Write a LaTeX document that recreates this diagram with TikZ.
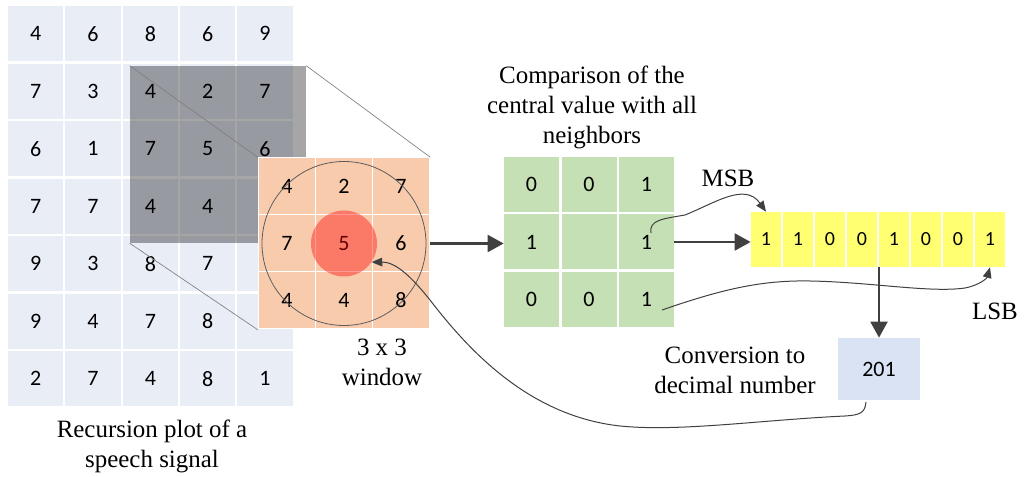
\documentclass[tikz,border=0pt]{standalone}
\usepackage{fontspec}
\setmainfont{Liberation Serif}
\newfontfamily\cellfont{Carlito}
\usepackage{tikz}
\usetikzlibrary{arrows.meta}
\definecolor{plotblue}{HTML}{E9EDF6}
\definecolor{winorange}{HTML}{F8CBAD}
\definecolor{cmpgreen}{HTML}{C5E0B4}
\definecolor{bityellow}{HTML}{FFFF71}
\definecolor{decblue}{HTML}{DAE3F3}
\definecolor{arrowgray}{HTML}{404040}
\tikzset{%
  cell/.style      = {shape=rectangle, inner sep=0pt,%
                      font=\cellfont\fontsize{16.5}{18}\selectfont},%
  plotcell/.style  = {cell, fill=plotblue, minimum width=41.6pt, minimum height=41.6pt},%
  wincell/.style   = {cell, fill=winorange, minimum size=42pt},%
  cmpcell/.style   = {cell, fill=cmpgreen, minimum size=41.25pt},%
  bitcell/.style   = {cell, fill=bityellow, minimum width=22.5pt,%
                      minimum height=41.25pt, font=\cellfont\fontsize{15}{16}\selectfont},%
  caption/.style   = {align=center, font=\rmfamily\fontsize{18.7}{22.5}\selectfont},%
  bigarrow/.style  = {draw=arrowgray, line width=2.2pt,%
                      -{Triangle[length=12pt,width=12.5pt]}},%
  thinarrow/.style = {draw=arrowgray, line width=.75pt,%
                      -{Triangle[length=8pt,width=6.5pt]}}%
}

\begin{document}
\begin{tikzpicture}[x=.75pt,y=-.75pt,
	zoomline/.style={draw=gray, line width=.5pt},
	selbox/.style={fill=black, fill opacity=.35, inner sep=0pt,
		minimum width=132pt, minimum height=132.75pt}]
	\useasboundingbox (0,0) rectangle (1025,477);
	% recursion plot
	\foreach \r/\vals in {0/{4,6,8,6,9},1/{7,3,4,2,7},2/{6,1,7,5,6},3/{7,7,4,4,{}},
		4/{9,3,8,7,{}},5/{9,4,7,8,{}},6/{2,7,4,8,1}}
		\foreach \v [count=\c from 0] in \vals
			\node [plotcell] (p\r\c) at (35.75+57.3*\c,33.75+57.5*\r) {\v};
	\node [caption] (plotlbl) at (152,446) {Recursion plot of a\\speech signal};
	\node [selbox] (sel) at (218,154.5) {};
	% 3 x 3 window
	\node [fill=white, inner sep=0pt, minimum size=129pt] (win) at (344,243.5) {};
	\draw [zoomline] (sel.north west) -- (win.north west)
		(sel.north east) -- (win.north east)
		(sel.south west) -- (win.south west);
	\foreach \r/\vals in {0/{4,2,7},1/{7,5,6},2/{4,4,8}}
		\foreach \v [count=\c from 0] in \vals
			\node [wincell] (w\r\c) at (287+57*\c,186.5+57*\r) {\v};
	\node [circle, fill=red, fill opacity=.4, inner sep=0pt, minimum size=49.5pt] (ctr) at (w11) {};
	\node [circle, draw=arrowgray!85, line width=.6pt, minimum size=123pt] (nbhd) at (w11) {};
	\node [caption] (winlbl) at (382,362) {3 x 3\\window};
	% comparison
	\node [caption] (cmplbl) at (592,107) {Comparison of the\\central value with all\\neighbors};
	\foreach \r/\vals in {0/{0,0,1},1/{1,{},1},2/{0,0,1}}
		\foreach \v [count=\c from 0] in \vals
			\node [cmpcell] (g\r\c) at (531.5+57.5*\c,184.5+57.5*\r) {\v};
	% binary code and decimal value
	\foreach \v [count=\i] in {1,1,0,0,1,0,0,1}
		\node [bitcell] (b\i) at (734+32*\i,239.5) {\v};
	\node [caption] (msblbl) at (728,178) {MSB};
	\node [caption] (lsblbl) at (995,311) {LSB};
	\node [cell, fill=decblue, minimum width=61.5pt, minimum height=46.5pt] (dec) at (879,369) {201};
	\node [caption] (declbl) at (735,370) {Conversion to\\decimal number};
	\draw [bigarrow] (win.east) -- (win.east -| g10.west);
	\draw [bigarrow] (g12.east) -- (g12.east -| b1.west);
	\draw [bigarrow] (dec.north |- b5.south) -- (dec.north);
	\coordinate (msb0) at (651,233);
	\coordinate (lsb0) at (662,310);
	\coordinate (ret0) at (866,402);
	\draw [thinarrow] (msb0) .. controls (649,220) and (662,219) .. (685,215)
		.. controls (715,203) and (745,182) .. (b1.north);
	\draw [thinarrow] (lsb0) .. controls (720,290) and (760,280) .. (810,281)
		.. controls (870,282) and (930,293) .. (965,288)
		.. controls (980,285) and (987,278) .. (b8.south);
	\draw [thinarrow] (ret0) .. controls (865,413) and (860,415) .. (845,416)
		.. controls (760,420) and (680,432) .. (620,426)
		.. controls (530,416) and (470,352) .. (430,300)
		.. controls (410,275) and (395,262) .. (ctr.-34);
\end{tikzpicture}
\end{document}
